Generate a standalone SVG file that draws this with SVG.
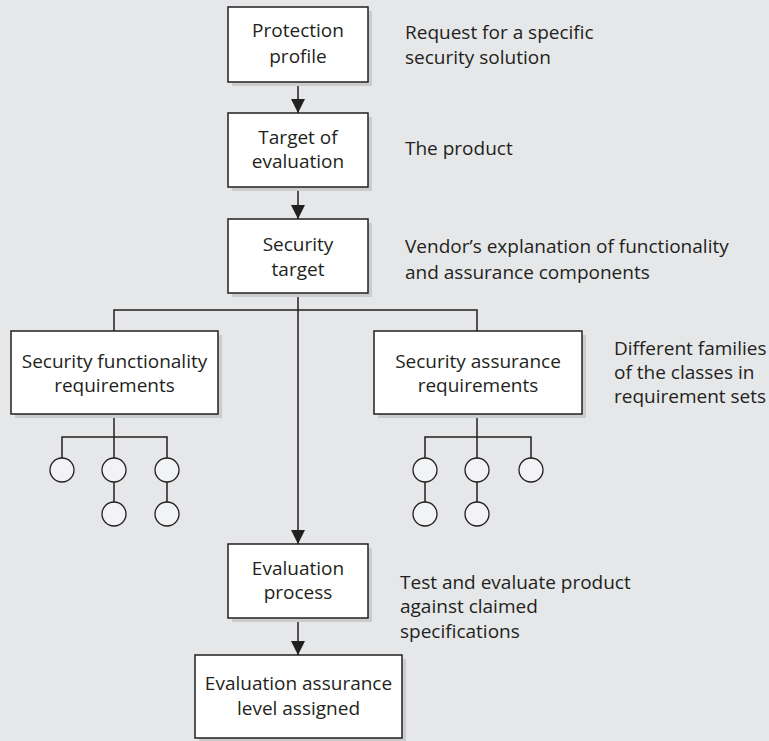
<svg xmlns="http://www.w3.org/2000/svg" width="769" height="741" viewBox="0 0 769 741">
<defs>
<style>
.box{fill:#ffffff;stroke:#231f20;stroke-width:1.5}
.shadow{fill:#cbccce}
.t{font-family:"Open Sans","Liberation Sans",sans-serif;font-size:19px;fill:#231f20}
.c{text-anchor:middle}
.ln{fill:none;stroke:#231f20;stroke-width:1.5}
.circ{fill:#f2f3f5;stroke:#231f20;stroke-width:1.3}
</style>
<marker id="arr" viewBox="0 0 14 14" refX="14" refY="7" markerWidth="15" markerHeight="14" markerUnits="userSpaceOnUse" orient="auto">
<path d="M0,0 L14,7 L0,14 Z" fill="#231f20"/>
</marker>
</defs>
<rect width="769" height="741" fill="#e6e7e9"/>

<g id="connectors">
<line class="ln" x1="298" y1="82" x2="298" y2="113" marker-end="url(#arr)"/>
<line class="ln" x1="298" y1="187" x2="298" y2="219" marker-end="url(#arr)"/>
<line class="ln" x1="298" y1="293" x2="298" y2="544" marker-end="url(#arr)"/>
<line class="ln" x1="298" y1="618" x2="298" y2="655" marker-end="url(#arr)"/>
<polyline class="ln" points="114,331 114,310 477,310 477,331"/>
<polyline class="ln" points="114,414 114,458"/>
<polyline class="ln" points="62,458 62,437 167,437 167,458"/>
<line class="ln" x1="114" y1="482" x2="114" y2="502"/>
<line class="ln" x1="167" y1="482" x2="167" y2="502"/>
<polyline class="ln" points="477,414 477,458"/>
<polyline class="ln" points="425,458 425,437 531,437 531,458"/>
<line class="ln" x1="425" y1="482" x2="425" y2="502"/>
<line class="ln" x1="477" y1="482" x2="477" y2="502"/>
</g>

<g id="protection-profile">
<rect class="shadow" x="232" y="11" width="140" height="75"/>
<rect class="box" x="228" y="7" width="140" height="75"/>
<text class="t c" x="298" y="37"><tspan x="298">Protection</tspan><tspan x="298" dy="26">profile</tspan></text>
</g>
<g id="target-of-evaluation">
<rect class="shadow" x="232" y="117" width="140" height="74"/>
<rect class="box" x="228" y="113" width="140" height="74"/>
<text class="t c" x="298" y="144"><tspan x="298">Target of</tspan><tspan x="298" dy="24">evaluation</tspan></text>
</g>
<g id="security-target">
<rect class="shadow" x="232" y="223" width="140" height="74"/>
<rect class="box" x="228" y="219" width="140" height="74"/>
<text class="t c" x="298" y="251"><tspan x="298">Security</tspan><tspan x="298" dy="25">target</tspan></text>
</g>
<g id="security-functionality">
<rect class="shadow" x="15" y="335" width="207" height="83"/>
<rect class="box" x="11" y="331" width="207" height="83"/>
<text class="t c" x="114.5" y="368"><tspan x="114.5">Security functionality</tspan><tspan x="114.5" dy="24">requirements</tspan></text>
</g>
<g id="security-assurance">
<rect class="shadow" x="378" y="335" width="208" height="83"/>
<rect class="box" x="374" y="331" width="208" height="83"/>
<text class="t c" x="478" y="368"><tspan x="478">Security assurance</tspan><tspan x="478" dy="24">requirements</tspan></text>
</g>
<g id="functionality-components">
<circle class="circ" cx="62" cy="470" r="12"/>
<circle class="circ" cx="114" cy="470" r="12"/>
<circle class="circ" cx="167" cy="470" r="12"/>
<circle class="circ" cx="114" cy="514" r="12"/>
<circle class="circ" cx="167" cy="514" r="12"/>
</g>
<g id="assurance-components">
<circle class="circ" cx="425" cy="470" r="12"/>
<circle class="circ" cx="477" cy="470" r="12"/>
<circle class="circ" cx="531" cy="470" r="12"/>
<circle class="circ" cx="425" cy="514" r="12"/>
<circle class="circ" cx="477" cy="514" r="12"/>
</g>
<g id="evaluation-process">
<rect class="shadow" x="232" y="548" width="140" height="74"/>
<rect class="box" x="228" y="544" width="140" height="74"/>
<text class="t c" x="298" y="575"><tspan x="298">Evaluation</tspan><tspan x="298" dy="24">process</tspan></text>
</g>
<g id="evaluation-assurance-level">
<rect class="shadow" x="199" y="659" width="207" height="83"/>
<rect class="box" x="195" y="655" width="207" height="83"/>
<text class="t c" x="298.5" y="690"><tspan x="298.5">Evaluation assurance</tspan><tspan x="298.5" dy="25">level assigned</tspan></text>
</g>

<g id="annotations">
<text class="t" x="405" y="39"><tspan x="405">Request for a specific</tspan><tspan x="405" dy="25">security solution</tspan></text>
<text class="t" x="405" y="155">The product</text>
<text class="t" x="405" y="253"><tspan x="405">Vendor’s explanation of functionality</tspan><tspan x="405" dy="26">and assurance components</tspan></text>
<text class="t" x="614" y="355"><tspan x="614">Different families</tspan><tspan x="614" dy="24">of the classes in</tspan><tspan x="614" dy="24">requirement sets</tspan></text>
<text class="t" x="400" y="589"><tspan x="400">Test and evaluate product</tspan><tspan x="400" dy="24">against claimed</tspan><tspan x="400" dy="25">specifications</tspan></text>
</g>
</svg>
